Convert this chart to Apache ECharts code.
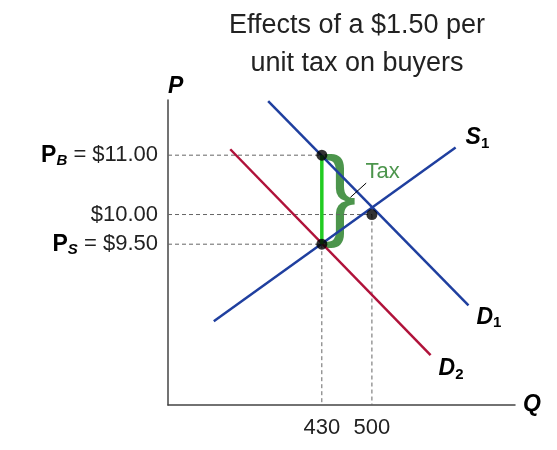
<!DOCTYPE html>
<html><head><meta charset="utf-8">
<script src="https://cdn.jsdelivr.net/npm/echarts@6/dist/echarts.min.js"></script>
<style>html,body{margin:0;padding:0;background:#fff}#main{width:557px;height:450px}</style>
</head><body><div id="main"></div>
<script>
var myChart = echarts.init(document.getElementById('main'));
var qTicks = [430, 500];
var pTicks = [9.5, 10, 11];
var pLabels = {9.5: '{p|P}{sub|S}{n| = $9.50}', 10: '{n|$10.00}', 11: '{p|P}{sub|B}{n| = $11.00}'};
var supply1 = [[279, 8.2], [617, 11.13]];
var demand1 = [[355, 11.91], [635, 8.47]];
var demand2 = [[302, 11.1], [582, 7.63]];
var points = [[430, 11], [500, 10], [430, 9.5]];
var blue = '#1f3f9f', red = '#b0123a', green = '#1f7a1f';
var font = 'Liberation Sans';

function dashed(from, to) {
  return {type: 'line', data: [from, to], symbol: 'none', silent: true,
    lineStyle: {color: '#666', width: 1, type: [4, 3]}};
}
function curve(d, c, name, pos) {
  return {type: 'line', data: d, symbol: 'none', lineStyle: {color: c, width: 2.5},
    endLabel: {show: true, formatter: name, rich: {p: {fontSize: 23, fontWeight: 'bold', fontStyle: 'italic', fontFamily: font, color: '#000'}, sub: {fontSize: 15, fontWeight: 'bold', fontFamily: font, color: '#000', verticalAlign: 'bottom', padding: [12, 0, 0, 0]}}, offset: pos}};
}

option = {
  animation: false,
  title: {text: 'Effects of a $1.50 per\nunit tax on buyers', left: 352, textAlign: 'center', top: 2,
    textStyle: {fontSize: 27, fontWeight: 'normal', fontFamily: font, color: '#222', lineHeight: 38}},
  grid: {left: 168, top: 100, right: 42, bottom: 45},
  xAxis: {type: 'value', min: 215, max: 700, splitLine: {show: false},
    name: 'Q', nameLocation: 'end', nameGap: 8,
    nameTextStyle: {fontSize: 23, fontWeight: 'bold', fontStyle: 'italic', fontFamily: font, color: '#000', padding: [10, 0, 0, 0]},
    axisLine: {lineStyle: {color: '#444', width: 1.5}},
    axisTick: {show: false},
    axisLabel: {customValues: qTicks, fontSize: 22, fontFamily: font, color: '#222', margin: 12}},
  yAxis: {type: 'value', min: 6.79, max: 11.93, splitLine: {show: false},
    name: 'P', nameGap: 2,
    nameTextStyle: {fontSize: 23, fontWeight: 'bold', fontStyle: 'italic', fontFamily: font, color: '#000', align: 'left'},
    axisLine: {show: true, lineStyle: {color: '#444', width: 1.5}},
    axisTick: {show: false},
    axisLabel: {customValues: pTicks, margin: 10, formatter: function (v) { return pLabels[v]; },
      rich: {p: {fontSize: 23, fontWeight: 'bold', fontFamily: font, color: '#000'},
        sub: {fontSize: 15, fontWeight: 'bold', fontStyle: 'italic', fontFamily: font, color: '#000', verticalAlign: 'bottom', padding: [12, 0, 0, 0]},
        n: {fontSize: 22, fontFamily: font, color: '#222'}}}},
  series: [
    dashed([215, 11], [430, 11]), dashed([215, 10], [500, 10]), dashed([215, 9.5], [430, 9.5]),
    dashed([430, 9.5], [430, 6.79]), dashed([500, 10], [500, 6.79]),
    curve(supply1, blue, '{p|S}{sub|1}', [2, -10]),
    curve(demand1, blue, '{p|D}{sub|1}', [0, 12]),
    curve(demand2, red, '{p|D}{sub|2}', [0, 14]),
    {type: 'line', data: [[430, 11], [430, 9.5]], symbol: 'none', lineStyle: {color: '#22cc22', width: 3.5}},
    {type: 'line', data: [[470, 10.29], [492, 10.53]], symbol: 'none', lineStyle: {color: '#000', width: 1}},
    {type: 'scatter', data: [[455, 10.25]], symbolSize: 0,
      label: {show: true, formatter: '}', fontSize: 100, fontWeight: 'normal', fontFamily: font, color: green}},
    {type: 'scatter', data: [[515, 10.71]], symbolSize: 0,
      label: {show: true, formatter: 'Tax', fontSize: 22, fontFamily: font, color: green}},
    {type: 'scatter', data: points, symbolSize: 11, itemStyle: {color: '#000'}, z: 5}
  ]
};
myChart.setOption(option);
</script></body></html>
